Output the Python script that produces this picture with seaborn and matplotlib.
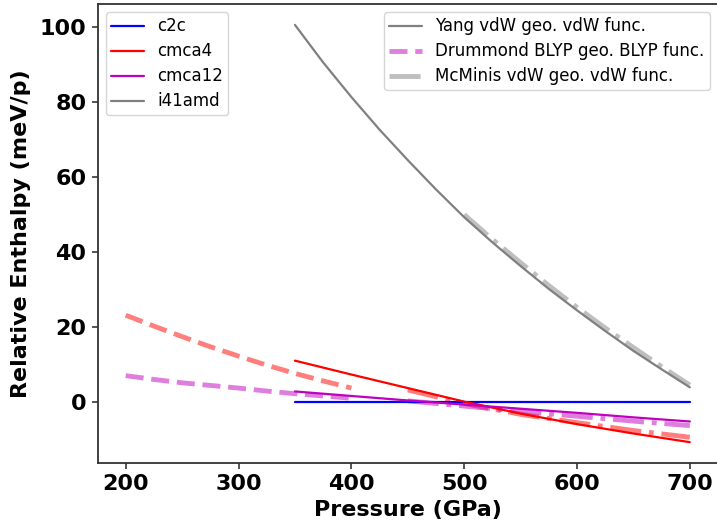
import matplotlib
matplotlib.use("Agg")
import matplotlib.pyplot as plt
import seaborn as sns
from matplotlib.lines import Line2D

# ---- data ----
p_yang = [350, 400, 450, 500, 550, 600, 650, 700]
c2c = [0, 0, 0, 0, 0, 0, 0, 0]
cmca4 = [11.1, 7.4, 3.8, 0.2, -3.0, -5.8, -8.3, -10.6]
cmca12 = [2.9, 1.7, 0.5, -0.6, -1.7, -2.8, -4.0, -5.1]

p_i41 = [350, 375, 400, 425, 450, 475, 500, 525, 550, 575, 600, 625, 650, 675, 700]
i41amd = [100.5, 90.5, 81.3, 72.6, 64.5, 56.7, 49.3, 42.6, 36.3, 30.2, 24.5,
          19.0, 13.7, 8.8, 4.0]

p_drum = [200, 225, 250, 275, 300, 325, 350, 375, 400]
drum_cmca4 = [23.2, 20.3, 17.5, 14.8, 12.3, 9.9, 7.7, 5.7, 3.8]
drum_cmca12 = [7.1, 6.1, 5.2, 4.5, 3.8, 3.0, 2.3, 1.7, 1.1]

p_mcm = [450, 500, 550, 600, 650, 700]
mcm_cmca4 = [3.3, -0.3, -3.2, -5.4, -7.5, -9.3]
mcm_cmca12 = [0.4, -1.0, -2.4, -3.7, -5.0, -6.2]
p_mcm_i41 = [500, 525, 550, 575, 600, 625, 650, 675, 700]
mcm_i41amd = [50.0, 43.4, 37.2, 31.1, 25.3, 19.8, 14.6, 9.5, 4.6]

phases = ["c2c", "cmca4", "cmca12", "i41amd"]
colors = {"c2c": "b", "cmca4": "r", "cmca12": "m", "i41amd": "gray"}
sources = ["Yang vdW geo. vdW func.", "Drummond BLYP geo. BLYP func.",
           "McMinis vdW geo. vdW func."]

sns.set_style("ticks")
plt.rcParams["font.family"] = ["DejaVu Sans"]
plt.rcParams["text.color"] = "black"
plt.rcParams["axes.labelcolor"] = "black"
plt.rcParams["xtick.color"] = "black"
plt.rcParams["ytick.color"] = "black"

fig = plt.figure(figsize=(7.17, 5.22), dpi=100)
ax = fig.add_axes([0.136, 0.113, 0.8654, 0.8793])

lw_main = 1.6
lw_ref = 3.5

# Yang (solid)
for name, xs, vals in [("c2c", p_yang, c2c), ("cmca4", p_yang, cmca4),
                       ("cmca12", p_yang, cmca12), ("i41amd", p_i41, i41amd)]:
    sns.lineplot(x=xs, y=vals, color=colors[name], lw=lw_main, ax=ax, zorder=3)

# Drummond (dashed, faded)
for name, vals in [("cmca4", drum_cmca4), ("cmca12", drum_cmca12)]:
    sns.lineplot(x=p_drum, y=vals, color=colors[name], lw=lw_ref, ls="--",
                 alpha=0.5, ax=ax, zorder=2)

# McMinis (dash-dot, faded)
for name, xs, vals in [("cmca4", p_mcm, mcm_cmca4), ("cmca12", p_mcm, mcm_cmca12),
                       ("i41amd", p_mcm_i41, mcm_i41amd)]:
    sns.lineplot(x=xs, y=vals, color=colors[name], lw=lw_ref, ls="-.",
                 alpha=0.5, ax=ax, zorder=2)

ax.set_xticks([200, 300, 400, 500, 600, 700])
ax.set_yticks([0, 20, 40, 60, 80, 100])
ax.tick_params(labelsize=16, length=4.5, width=1.1, color="0.15")
for lab in ax.get_xticklabels() + ax.get_yticklabels():
    lab.set_fontweight("bold")
ax.set_xlabel("Pressure (GPa)", fontsize=16, fontweight="bold", labelpad=4)
ax.set_ylabel("Relative Enthalpy (meV/p)", fontsize=16, fontweight="bold", labelpad=6)
for s in ax.spines.values():
    s.set_color("0.2")
    s.set_linewidth(1.3)

leg_kw = dict(fontsize=12, frameon=True, borderpad=0.3, labelspacing=0.42)
h1 = [Line2D([], [], color=colors[n], lw=lw_main) for n in phases]
leg1 = ax.legend(h1, phases, loc="upper left", **leg_kw)
ax.add_artist(leg1)
h2 = [Line2D([], [], color="gray", lw=lw_main),
      Line2D([], [], color="m", lw=lw_ref, ls="--", alpha=0.5),
      Line2D([], [], color="gray", lw=lw_ref, ls="-.", alpha=0.5)]
ax.legend(h2, sources, loc="upper right", **leg_kw)

fig.savefig("out.png", dpi=100)
